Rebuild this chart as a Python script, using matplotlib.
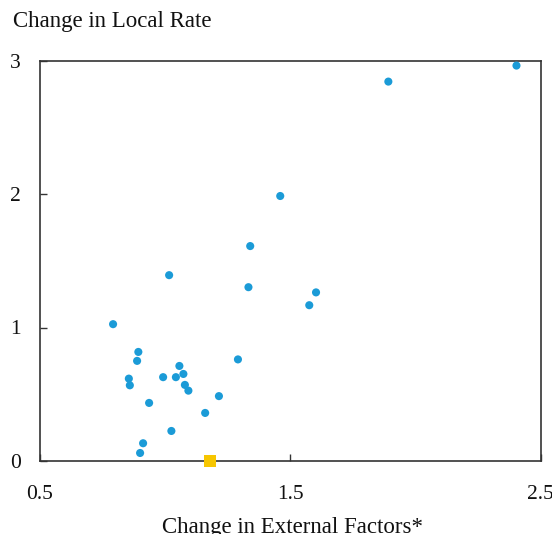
import matplotlib
matplotlib.use("Agg")
import matplotlib.pyplot as plt

x_vals = [0.792, 0.893, 0.888, 0.855, 0.859, 0.936, 0.992, 1.016, 1.043, 1.057,
          1.073, 1.079, 1.093, 1.025, 0.912, 0.900, 1.160, 1.215, 1.291, 1.333,
          1.340, 1.460, 1.576, 1.603, 1.892, 2.404]
y_vals = [1.025, 0.817, 0.750, 0.617, 0.567, 0.435, 0.628, 1.392, 0.628, 0.712,
          0.652, 0.570, 0.527, 0.225, 0.133, 0.060, 0.360, 0.486, 0.761, 1.302,
          1.610, 1.985, 1.167, 1.263, 2.842, 2.962]
hl_x = [1.18]
hl_y = [0.0]

title = "Change in Local Rate"
xlabel = "Change in External Factors*"
xticks = [0.5, 1.5, 2.5]
xticklabels = ["0.5", "1.5", "2.5"]
yticks = [0, 1, 2, 3]
yticklabels = ["0", "1", "2", "3"]

plt.rcParams['font.family'] = ['Liberation Serif', 'DejaVu Serif']

fig = plt.figure(figsize=(5.52, 5.34), dpi=100)
ax = fig.add_axes([40/552, 73/534, 500.5/552, 400.5/534])
ax.set_xlim(0.5, 2.5)
ax.set_ylim(0, 3)

ax.scatter(x_vals, y_vals, s=34, color="#1b9bd7", edgecolors="none", zorder=3, clip_on=False)
ax.scatter(hl_x, hl_y, s=80, marker="s", color="#f7c600", edgecolors="none", zorder=4, clip_on=False)

for sp in ax.spines.values():
    sp.set_color("#333333")
    sp.set_linewidth(1.2)

ax.set_xticks(xticks)
ax.set_xticklabels(xticklabels)
ax.set_yticks(yticks)
ax.set_yticklabels(yticklabels)
ax.tick_params(axis='both', direction='in', length=5, width=1.0, color="#333333",
               labelsize=15.5, labelcolor="#111111")
ax.tick_params(axis='x', pad=17)
ax.tick_params(axis='y', pad=14)

fig.text(13/552, 1 - 22/534, title, fontsize=16.5, color="#111111", ha='left', va='center')
fig.text(293/552, 1 - 527/534, xlabel, fontsize=16.5, color="#111111", ha='center', va='center')

fig.savefig("out.png", dpi=100)
